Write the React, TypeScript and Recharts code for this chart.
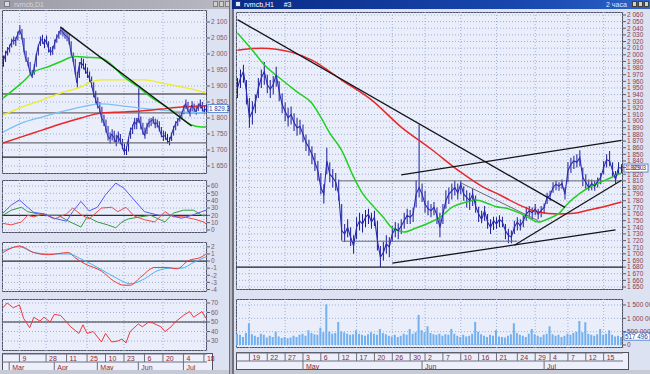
import {
  ComposedChart,
  Line,
  Bar,
  XAxis,
  YAxis,
  CartesianGrid,
  ReferenceLine,
} from 'recharts'

// ---------- left window: daily bars, Mar..Jul ----------
const LEFT_N = 100

const leftClose = [
  1975, 1995, 2010, 2020, 2035, 2045, 2040, 2060, 2075, 2060,
  2020, 1985, 1975, 1945, 1930, 1950, 1990, 2020, 2040, 2045,
  2030, 2045, 2020, 2005, 2010, 2030, 2050, 2060, 2075, 2070,
  2060, 2055, 2050, 2010, 1985, 1950, 1910, 1960, 1975, 1965,
  1950, 1940, 1925, 1910, 1880, 1860, 1840, 1830, 1800, 1790,
  1770, 1745, 1735, 1750, 1740, 1725, 1745, 1730, 1715, 1695,
  1700, 1730, 1760, 1770, 1790, 1780, 1800, 1780, 1760, 1745,
  1770, 1785, 1790, 1795, 1780, 1785, 1770, 1750, 1740, 1745,
  1730, 1725, 1745, 1765, 1780, 1790, 1800, 1810, 1830, 1845,
  1825, 1815, 1840, 1830, 1820, 1835, 1845, 1830, 1820, 1829,
]
const leftHigh = [
  1995, 2010, 2022, 2030, 2048, 2055, 2052, 2070, 2090, 2078,
  2050, 2010, 1990, 1975, 1950, 1968, 2000, 2030, 2055, 2060,
  2048, 2058, 2040, 2022, 2025, 2045, 2062, 2072, 2085, 2082,
  2075, 2068, 2062, 2040, 2005, 1985, 1945, 1975, 1988, 1985,
  1970, 1958, 1945, 1930, 1912, 1885, 1865, 1850, 1835, 1810,
  1795, 1775, 1755, 1765, 1760, 1748, 1758, 1750, 1735, 1720,
  1712, 1740, 1770, 1780, 1800, 1800, 1893, 1805, 1785, 1770,
  1785, 1798, 1800, 1805, 1798, 1795, 1790, 1772, 1760, 1758,
  1750, 1740, 1755, 1775, 1790, 1800, 1812, 1820, 1840, 1858,
  1850, 1830, 1852, 1845, 1835, 1845, 1858, 1850, 1838, 1840,
]
const leftLow = [
  1960, 1975, 1995, 2005, 2020, 2030, 2025, 2042, 2060, 2045,
  2005, 1975, 1962, 1935, 1925, 1935, 1960, 1995, 2025, 2032,
  2018, 2030, 2005, 1995, 1998, 2015, 2035, 2048, 2060, 2055,
  2048, 2040, 2030, 1995, 1975, 1935, 1895, 1925, 1955, 1952,
  1938, 1925, 1910, 1895, 1865, 1845, 1830, 1815, 1785, 1775,
  1755, 1730, 1720, 1730, 1725, 1712, 1725, 1718, 1702, 1685,
  1684, 1695, 1735, 1750, 1765, 1765, 1785, 1765, 1748, 1735,
  1750, 1770, 1775, 1782, 1768, 1770, 1758, 1740, 1728, 1732,
  1720, 1715, 1728, 1745, 1762, 1775, 1788, 1795, 1812, 1828,
  1815, 1805, 1820, 1818, 1810, 1822, 1830, 1820, 1812, 1818,
]

// moving averages, read as [bar index, value]
const leftGreenMA: [number, number][] = [
  [0, 1862], [9, 1909], [15, 1944], [22, 1960], [28, 1976], [35, 1992], [41, 1990],
  [48, 1987], [53, 1966], [59, 1928], [66, 1897], [72, 1866], [80, 1834], [87, 1800],
  [92, 1778], [97, 1772], [99, 1772],
]
const leftYellowMA: [number, number][] = [
  [0, 1809], [9, 1834], [19, 1856], [28, 1878], [38, 1897], [43, 1913], [48, 1919],
  [58, 1919], [69, 1919], [77, 1910], [87, 1897], [97, 1882], [99, 1878],
]
const leftBlueMA: [number, number][] = [
  [0, 1756], [9, 1784], [19, 1803], [28, 1819], [38, 1834], [48, 1844], [58, 1838],
  [67, 1831], [77, 1825], [87, 1819], [99, 1816],
]
const leftRedMA: [number, number][] = [
  [0, 1722], [9, 1741], [19, 1762], [28, 1781], [38, 1800], [48, 1816], [58, 1819],
  [67, 1822], [77, 1828], [87, 1834], [99, 1838],
]

// indicator panels
const dmiPlus: [number, number][] = [
  [0, 23], [4, 34], [8, 41], [12, 31], [15, 24], [20, 22], [25, 16], [31, 12], [34, 25],
  [38, 39], [42, 26], [46, 31], [50, 48], [55, 64], [59, 57], [63, 44], [69, 25], [76, 20],
  [82, 20], [87, 16], [92, 20], [97, 25], [99, 27],
]
const dmiRed: [number, number][] = [
  [0, 9], [4, 7], [9, 11], [12, 20], [15, 18], [20, 22], [25, 15], [31, 22], [34, 30],
  [38, 21], [42, 15], [48, 30], [53, 31], [56, 25], [60, 31], [64, 19], [69, 14], [74, 11],
  [79, 25], [83, 18], [88, 18], [93, 15], [98, 11], [99, 8],
]
const dmiGreen: [number, number][] = [
  [0, 20], [4, 27], [9, 31], [12, 25], [17, 22], [22, 20], [27, 20], [32, 12], [38, 4],
  [41, 18], [46, 11], [51, 7], [55, 3], [58, 11], [61, 15], [67, 18], [72, 20], [79, 11],
  [83, 23], [88, 27], [93, 27], [97, 20], [99, 20],
]
const macdLine: [number, number][] = [
  [0, 1.2], [8, 2.1], [15, 1.2], [22, 0.9], [32, 1.2], [35, 0.5], [40, -0.4], [48, -1.4],
  [54, -2.8], [59, -3.4], [62, -3.4], [67, -2.3], [74, -0.9], [80, -0.9], [85, -1.1],
  [90, 0], [97, 0.6], [99, 1.0],
]
const macdSignal: [number, number][] = [
  [0, 1.5], [8, 2.0], [15, 1.2], [22, 1.0], [32, 1.0], [38, 0.3], [48, -1.2], [56, -2.5],
  [62, -3.2], [69, -2.5], [75, -1.4], [82, -1.0], [87, -1.0], [93, -0.2], [99, 0.6],
]
const rsiLine: [number, number][] = [
  [0, 65], [2, 70], [5, 65], [7, 67], [8, 68], [10, 54], [13, 44], [15, 55], [18, 51],
  [20, 55], [23, 50], [25, 58], [28, 57], [31, 50], [33, 45], [37, 38], [39, 47], [41, 38],
  [44, 40], [48, 29], [50, 38], [53, 29], [56, 30], [58, 32], [60, 28], [62, 40], [66, 48],
  [68, 45], [71, 50], [73, 49], [77, 45], [79, 40], [82, 45], [84, 50], [88, 57], [91, 61],
  [93, 55], [97, 61], [99, 54],
]

const leftDayTicks = [8, 21, 31, 41, 50, 59, 69, 78, 88, 98]
const leftDayLabels = ['9', '28', '11', '25', '10', '23', '6', '20', '4', '18']
const leftMonthTicks = [3, 25, 46, 66, 88]
const leftMonthLabels = ['Mar', 'Apr', 'May', 'Jun', 'Jul']

// ---------- right window: intraday bars, Apr..Jul ----------
const RIGHT_N = 130

const rightClose = [
  1950, 1965, 1975, 1945, 1905, 1915, 1928, 1950, 1965, 1975,
  1955, 1948, 1955, 1970, 1945, 1925, 1915, 1905, 1910, 1898,
  1890, 1892, 1880, 1868, 1860, 1850, 1838, 1825, 1800, 1790,
  1840, 1820, 1815, 1808, 1790, 1735, 1730, 1740, 1725, 1712,
  1740, 1750, 1745, 1755, 1760, 1748, 1755, 1720, 1695, 1702,
  1715, 1710, 1730, 1738, 1735, 1742, 1750, 1758, 1755, 1760,
  1790, 1800, 1790, 1775, 1768, 1765, 1770, 1758, 1740, 1760,
  1780, 1790, 1795, 1800, 1792, 1805, 1790, 1785, 1780, 1790,
  1772, 1760, 1752, 1765, 1748, 1740, 1750, 1745, 1752, 1748,
  1735, 1728, 1725, 1740, 1748, 1742, 1750, 1760, 1765, 1762,
  1768, 1760, 1765, 1770, 1785, 1788, 1800, 1805, 1802, 1806,
  1790, 1825, 1835, 1840, 1838, 1845, 1815, 1808, 1800, 1806,
  1802, 1810, 1815, 1830, 1842, 1840, 1825, 1812, 1830, 1829,
]
const rightHigh = [
  1965, 1978, 1985, 1962, 1935, 1930, 1940, 1965, 1978, 1989,
  1970, 1962, 1968, 1982, 1960, 1942, 1928, 1920, 1922, 1912,
  1905, 1902, 1895, 1880, 1872, 1862, 1852, 1840, 1822, 1805,
  1860, 1838, 1828, 1822, 1812, 1775, 1745, 1752, 1740, 1728,
  1755, 1762, 1760, 1766, 1768, 1762, 1765, 1750, 1712, 1718,
  1728, 1725, 1742, 1748, 1746, 1752, 1762, 1768, 1766, 1770,
  1811, 1895, 1806, 1795, 1780, 1775, 1778, 1770, 1762, 1775,
  1796, 1800, 1806, 1810, 1806, 1810, 1802, 1796, 1792, 1798,
  1788, 1771, 1765, 1772, 1760, 1752, 1756, 1755, 1758, 1756,
  1745, 1738, 1735, 1750, 1755, 1752, 1758, 1771, 1772, 1770,
  1775, 1768, 1772, 1776, 1792, 1795, 1808, 1810, 1808, 1812,
  1800, 1838, 1845, 1848, 1850, 1856, 1830, 1820, 1812, 1812,
  1810, 1815, 1822, 1840, 1850, 1855, 1838, 1825, 1838, 1835,
]
const rightLow = [
  1935, 1950, 1958, 1925, 1890, 1895, 1912, 1935, 1950, 1955,
  1942, 1935, 1940, 1952, 1930, 1912, 1900, 1892, 1895, 1885,
  1878, 1880, 1868, 1855, 1848, 1835, 1825, 1810, 1790, 1776,
  1820, 1808, 1800, 1795, 1780, 1720, 1718, 1725, 1712, 1700,
  1722, 1735, 1732, 1740, 1745, 1738, 1742, 1705, 1680, 1690,
  1700, 1695, 1718, 1725, 1722, 1730, 1738, 1745, 1745, 1748,
  1770, 1785, 1778, 1762, 1758, 1755, 1758, 1745, 1725, 1745,
  1768, 1775, 1782, 1788, 1782, 1790, 1780, 1770, 1766, 1772,
  1762, 1748, 1746, 1750, 1738, 1730, 1736, 1738, 1740, 1740,
  1722, 1716, 1716, 1730, 1735, 1735, 1740, 1750, 1755, 1752,
  1758, 1752, 1755, 1760, 1775, 1780, 1792, 1796, 1795, 1798,
  1782, 1808, 1822, 1828, 1830, 1832, 1802, 1798, 1795, 1796,
  1795, 1800, 1805, 1820, 1830, 1832, 1815, 1806, 1820, 1822,
]
// volume in thousands
const rightVolume = [
  420, 380, 300, 450, 820, 400, 350, 300, 420, 380,
  280, 350, 300, 500, 320, 260, 300, 250, 280, 350,
  300, 380, 420, 350, 550, 450, 400, 380, 650, 480,
  1530, 500, 420, 450, 860, 520, 480, 420, 380, 400,
  550, 420, 380, 350, 400, 480, 420, 380, 600, 450,
  400, 350, 320, 380, 300, 350, 420, 380, 600, 420,
  480, 1120, 550, 480, 700, 450, 400, 380, 420, 350,
  400, 380, 600, 420, 350, 300, 380, 320, 350, 420,
  860, 500, 400, 350, 300, 380, 350, 550, 320, 300,
  280, 350, 400, 820, 450, 380, 350, 300, 420, 600,
  400, 350, 300, 380, 420, 700, 400, 350, 380, 300,
  350, 420, 380, 450, 500, 900, 480, 850, 420, 380,
  350, 400, 600, 380, 420, 550, 380, 320, 350, 300,
]

const rightGreenMA: [number, number][] = [
  [0, 2033], [5, 2007], [9, 1985], [15, 1962], [20, 1944], [25, 1927], [28, 1906],
  [31, 1882], [35, 1856], [39, 1816], [42, 1791], [46, 1770], [49, 1755], [52, 1739],
  [56, 1733], [60, 1739], [65, 1748], [68, 1755], [72, 1770], [77, 1778], [80, 1781],
  [84, 1776], [87, 1771], [90, 1769], [95, 1761], [98, 1754], [101, 1748], [105, 1754],
  [108, 1761], [111, 1776], [115, 1791], [118, 1800], [121, 1806], [125, 1814], [129, 1822],
]
const rightRedMA: [number, number][] = [
  [0, 2007], [8, 2010], [18, 2004], [25, 1992], [35, 1962], [45, 1932], [55, 1891],
  [65, 1858], [75, 1823], [82, 1802], [88, 1789], [95, 1773], [101, 1763], [108, 1760],
  [113, 1761], [118, 1766], [124, 1772], [129, 1778],
]

const rightDayTicks = [4, 10, 16, 22, 28, 34, 40, 46, 52, 58, 63, 69, 75, 81, 87, 94, 100, 105, 111, 117, 123]
const rightDayLabels = ['19', '22', '27', '3', '6', '12', '17', '20', '26', '30', '2', '7', '10', '16', '21', '24', '29', '4', '7', '12', '15']
const rightMonthTicks = [22, 62, 103]
const rightMonthLabels = ['May', 'Jun', 'Jul']

// drawn lines: [from index, from value, to index, to value]
const leftTrend: [number, number, number, number][] = [[28, 2084, 92, 1775]]
const leftLevels = [
  { v: 1875, c: '#202028' },
  { v: 1816, c: '#6c6c78' },
  { v: 1722, c: '#6c6c78' },
  { v: 1678, c: '#202028' },
]
const rightTrend: [number, number, number, number][] = [
  [0, 2053, 110, 1770],
  [55, 1819, 129, 1871],
  [52, 1686, 127, 1736],
  [93, 1713, 129, 1811],
]
const rightThin: [number, number, number, number][] = [
  [75, 1807, 101, 1750],
  [34, 1810, 129, 1810],
  [35, 1719, 94, 1719],
]
const rightFloor = 1680

const FONT = '"Liberation Sans", Arial, sans-serif'
const PAGE_BG = '#dce2f2'
const PLOT_BG = '#e9eefa'
const FRAME = '#50505e'
const GRID = '#9fb0d8'

function spaced(v: number): string {
  const neg = v < 0
  const s = Math.abs(Math.round(v)).toString().replace(/\B(?=(\d{3})+(?!\d))/g, ' ')
  return neg ? `-${s}` : s
}

function sparse(n: number, pts: [number, number][]): (number | null)[] {
  const out: (number | null)[] = new Array(n).fill(null)
  pts.forEach(([i, v]) => {
    out[i] = v
  })
  return out
}

function range(from: number, to: number, step: number): number[] {
  const out: number[] = []
  for (let v = from; v <= to + 1e-9; v += step) out.push(Math.round(v * 100) / 100)
  return out
}

const lg = sparse(LEFT_N, leftGreenMA)
const ly = sparse(LEFT_N, leftYellowMA)
const lb = sparse(LEFT_N, leftBlueMA)
const lr = sparse(LEFT_N, leftRedMA)
const d1 = sparse(LEFT_N, dmiPlus)
const d2 = sparse(LEFT_N, dmiRed)
const d3 = sparse(LEFT_N, dmiGreen)
const m1 = sparse(LEFT_N, macdLine)
const m2 = sparse(LEFT_N, macdSignal)
const rs = sparse(LEFT_N, rsiLine)

const leftRows = leftClose.map((c, i) => ({
  i,
  close: c,
  hl: [leftLow[i], leftHigh[i]],
  green: lg[i],
  yellow: ly[i],
  blue: lb[i],
  red: lr[i],
  dp: d1[i],
  dr: d2[i],
  dg: d3[i],
  macd: m1[i],
  sig: m2[i],
  rsi: rs[i],
}))

const rg = sparse(RIGHT_N, rightGreenMA)
const rr = sparse(RIGHT_N, rightRedMA)
const rightRows = rightClose.map((c, i) => ({
  i,
  close: c,
  hl: [rightLow[i], rightHigh[i]],
  green: rg[i],
  red: rr[i],
  vol: rightVolume[i],
}))

// plain svg text so the spaced numbers never wrap
function yTick(fill: string, fmt: (v: number) => string) {
  return (p: any) => (
    <text x={p.x} y={p.y + 2.3} fontSize={6.5} fill={fill} fontFamily={FONT} textAnchor="start">
      {fmt(p.payload.value)}
    </text>
  )
}

function tag(text: string, w: number) {
  return (props: any) => {
    const vb = props.viewBox || {}
    const x = (vb.x || 0) + (vb.width || 0) + 1
    const y = vb.y || 0
    return (
      <g>
        <rect x={x} y={y - 4} width={w} height={8} fill="#ffffff" stroke="#3f74d0" strokeWidth={0.8} />
        <text x={x + 1} y={y + 2.4} fontSize={6.3} fill="#1d3c9c" fontFamily={FONT}>
          {text}
        </text>
      </g>
    )
  }
}

function Box({ x, y, w, h, bg = PLOT_BG }: { x: number; y: number; w: number; h: number; bg?: string }) {
  return (
    <div
      style={{
        position: 'absolute',
        left: x,
        top: y,
        width: w,
        height: h,
        background: bg,
        border: `1px solid ${FRAME}`,
        boxSizing: 'border-box',
      }}
    />
  )
}

function DateStrip(props: {
  x: number
  y: number
  w: number
  n: number
  rows: any[]
  dayTicks: number[]
  dayLabels: string[]
  monthTicks: number[]
  monthLabels: string[]
}) {
  const { x, y, w, n, rows, dayTicks, dayLabels, monthTicks, monthLabels } = props
  const dayTick = (p: any) => {
    const k = dayTicks.indexOf(p.payload.value)
    return (
      <g>
        <line x1={p.x} y1={p.y} x2={p.x} y2={p.y + 8} stroke="#6e6e7e" />
        <text x={p.x + 3} y={p.y + 7} fontSize={7} fill="#8a2a3a" fontFamily={FONT}>
          {dayLabels[k]}
        </text>
      </g>
    )
  }
  const monthTick = (p: any) => {
    const k = monthTicks.indexOf(p.payload.value)
    return (
      <g>
        <line x1={p.x} y1={p.y} x2={p.x} y2={p.y + 9} stroke="#6e6e7e" />
        <text x={p.x + 3} y={p.y + 8} fontSize={7} fill="#8a2a3a" fontFamily={FONT}>
          {monthLabels[k]}
        </text>
      </g>
    )
  }
  return (
    <>
      <Box x={x} y={y} w={w + 6} h={18} bg="#edf0fa" />
      <div style={{ position: 'absolute', left: x, top: y }}>
        <ComposedChart width={w + 20} height={18} data={rows} margin={{ top: 0, right: 20, bottom: 0, left: 0 }}>
          <YAxis hide domain={[0, 1]} allowDataOverflow />
          <XAxis
            xAxisId="d"
            dataKey="i"
            type="number"
            domain={[-0.5, n - 0.5]}
            ticks={dayTicks}
            interval={0}
            height={8}
            tickSize={0}
            tickMargin={0}
            tickLine={false}
            axisLine={{ stroke: '#6e6e7e' }}
            tick={dayTick}
          />
          <XAxis
            xAxisId="m"
            dataKey="i"
            type="number"
            domain={[-0.5, n - 0.5]}
            ticks={monthTicks}
            interval={0}
            height={9}
            tickSize={0}
            tickMargin={0}
            tickLine={false}
            axisLine={{ stroke: '#6e6e7e' }}
            tick={monthTick}
          />
          <Line xAxisId="d" dataKey="close" stroke="none" dot={false} isAnimationActive={false} />
          <Line xAxisId="m" dataKey="close" stroke="none" dot={false} isAnimationActive={false} />
        </ComposedChart>
      </div>
    </>
  )
}

// geometry of the two windows
const L = { x: 2, w: 205, axis: 23 }
const R = { x: 236, w: 387, axis: 27 }

export default function App() {
  const leftX = (
    <XAxis dataKey="i" type="number" domain={[-0.5, LEFT_N - 0.5]} ticks={leftDayTicks} hide />
  )
  const rightX = (
    <XAxis dataKey="i" type="number" domain={[-0.5, RIGHT_N - 0.5]} ticks={rightDayTicks} hide />
  )
  const leftYProps = {
    orientation: 'right' as const,
    width: L.axis,
    interval: 0,
    tickSize: 3,
    tickMargin: 1,
    axisLine: false,
    tickLine: { stroke: '#5a5a6a' },
    allowDataOverflow: true,
  }
  const rightYProps = {
    orientation: 'right' as const,
    width: R.axis,
    interval: 0,
    tickSize: 3,
    tickMargin: 1,
    axisLine: false,
    tickLine: { stroke: '#5a5a6a' },
    allowDataOverflow: true,
  }
  const leftLabel = '#7a5a6c'
  const rightLabel = '#8a3a4c'
  const plain = (v: number) => String(v)
  const grid = <CartesianGrid stroke={GRID} strokeDasharray="1 2" />

  return (
    <div
      style={{
        position: 'relative',
        width: 650,
        height: 374,
        background: PAGE_BG,
        overflow: 'hidden',
        fontFamily: FONT,
      }}
    >
      <style>{'body{margin:0}'}</style>

      {/* left window chrome */}
      <div style={{ position: 'absolute', left: 0, top: 0, width: 229, height: 9, background: 'linear-gradient(90deg,#9c9ca6,#b8b8c2)' }} />
      <div style={{ position: 'absolute', left: 4, top: 1, width: 6, height: 6, background: '#d8d8e0', border: '1px solid #7a7a86', boxSizing: 'border-box' }} />
      <div style={{ position: 'absolute', left: 14, top: 0, fontSize: 7, color: '#d4d4dc', lineHeight: '9px' }}>rvmcb,D1</div>
      {[213, 219, 225].map((bx) => (
        <div key={bx} style={{ position: 'absolute', left: bx, top: 1, width: 5, height: 6, background: '#d4d0c8', border: '1px solid #808080', boxSizing: 'border-box' }} />
      ))}
      <div style={{ position: 'absolute', left: 229, top: 0, width: 3, height: 374, background: '#b6b6c0', borderLeft: '1px solid #70707c', boxSizing: 'border-box' }} />

      {/* right window chrome */}
      <div style={{ position: 'absolute', left: 232, top: 0, width: 418, height: 9, background: 'linear-gradient(90deg,#0a2a86,#1848b0 70%,#2c62c8)' }} />
      <div style={{ position: 'absolute', left: 235, top: 1, width: 6, height: 6, background: '#dfe6ff', border: '1px solid #2a3a80', boxSizing: 'border-box' }} />
      <div style={{ position: 'absolute', left: 244, top: 0, fontSize: 7, color: '#ffffff', lineHeight: '9px', whiteSpace: 'pre' }}>{'rvmcb,H1     #3'}</div>
      <div style={{ position: 'absolute', left: 606, top: 0, fontSize: 7, color: '#dfe8ff', lineHeight: '9px', whiteSpace: 'nowrap' }}>2 часа</div>
      {[632, 638, 644].map((bx) => (
        <div key={bx} style={{ position: 'absolute', left: bx, top: 1, width: 5, height: 6, background: '#d4d0c8', border: '1px solid #404040', boxSizing: 'border-box' }} />
      ))}
      <div style={{ position: 'absolute', left: 232, top: 9, width: 2, height: 365, background: '#70707c' }} />

      {/* left: price */}
      <Box x={L.x} y={10} w={L.w} h={164} />
      <div style={{ position: 'absolute', left: L.x, top: 10 }}>
        <ComposedChart width={L.w + L.axis} height={164} data={leftRows} margin={{ top: 0, right: 0, bottom: 0, left: 0 }}>
          {grid}
          {leftX}
          <YAxis {...leftYProps} domain={[1625, 2137.5]} ticks={range(1650, 2100, 50)} tick={yTick(leftLabel, spaced)} />
          {leftLevels.map((l) => (
            <ReferenceLine key={l.v} y={l.v} stroke={l.c} strokeWidth={1.2} />
          ))}
          <Line dataKey="yellow" type="monotone" stroke="#ecec28" strokeWidth={1.3} dot={false} connectNulls isAnimationActive={false} />
          <Line dataKey="blue" type="monotone" stroke="#7cc0f4" strokeWidth={1.3} dot={false} connectNulls isAnimationActive={false} />
          <Line dataKey="red" type="monotone" stroke="#e82828" strokeWidth={1.5} dot={false} connectNulls isAnimationActive={false} />
          <Line dataKey="green" type="monotone" stroke="#22d022" strokeWidth={1.5} dot={false} connectNulls isAnimationActive={false} />
          <Bar dataKey="hl" barSize={1} fill="#1c1c9a" isAnimationActive={false} />
          <Line dataKey="close" type="linear" stroke="#2a2ab4" strokeWidth={1} dot={false} isAnimationActive={false} />
          {leftTrend.map(([a, av, b, bv]) => (
            <ReferenceLine key={a} segment={[{ x: a, y: av }, { x: b, y: bv }]} stroke="#141418" strokeWidth={1.3} />
          ))}
          <ReferenceLine y={1829.3} stroke="none" label={tag('1 829.3', 20)} />
        </ComposedChart>
      </div>

      {/* left: DMI */}
      <Box x={L.x} y={180} w={L.w} h={53} />
      <div style={{ position: 'absolute', left: L.x, top: 180 }}>
        <ComposedChart width={L.w + L.axis} height={53} data={leftRows} margin={{ top: 0, right: 0, bottom: 0, left: 0 }}>
          {grid}
          {leftX}
          <YAxis {...leftYProps} domain={[-4.1, 68.2]} ticks={range(0, 60, 10)} tick={yTick(leftLabel, plain)} />
          <ReferenceLine y={20} stroke="#303038" strokeWidth={1.2} />
          <Line dataKey="dg" type="linear" stroke="#3a9a3a" strokeWidth={1} dot={false} connectNulls isAnimationActive={false} />
          <Line dataKey="dr" type="linear" stroke="#f04848" strokeWidth={1} dot={false} connectNulls isAnimationActive={false} />
          <Line dataKey="dp" type="linear" stroke="#5858f4" strokeWidth={1} dot={false} connectNulls isAnimationActive={false} />
        </ComposedChart>
      </div>

      {/* left: MACD */}
      <Box x={L.x} y={242} w={L.w} h={50} />
      <div style={{ position: 'absolute', left: L.x, top: 242 }}>
        <ComposedChart width={L.w + L.axis} height={50} data={leftRows} margin={{ top: 0, right: 0, bottom: 0, left: 0 }}>
          {grid}
          {leftX}
          <YAxis {...leftYProps} domain={[-4.35, 2.68]} ticks={range(-4, 2, 1)} tick={yTick(leftLabel, plain)} />
          <ReferenceLine y={0} stroke="#303038" strokeWidth={1.2} />
          <Line dataKey="sig" type="monotone" stroke="#48b4f4" strokeWidth={1} dot={false} connectNulls isAnimationActive={false} />
          <Line dataKey="macd" type="monotone" stroke="#f03838" strokeWidth={1} dot={false} connectNulls isAnimationActive={false} />
        </ComposedChart>
      </div>

      {/* left: RSI */}
      <Box x={L.x} y={299} w={L.w} h={52} />
      <div style={{ position: 'absolute', left: L.x, top: 299 }}>
        <ComposedChart width={L.w + L.axis} height={52} data={leftRows} margin={{ top: 0, right: 0, bottom: 0, left: 0 }}>
          {grid}
          {leftX}
          <YAxis {...leftYProps} domain={[19.5, 74.2]} ticks={range(30, 70, 10)} tick={yTick(leftLabel, plain)} />
          <ReferenceLine y={50} stroke="#303038" strokeWidth={1.2} />
          <Line dataKey="rsi" type="linear" stroke="#f03838" strokeWidth={1} dot={false} connectNulls isAnimationActive={false} />
        </ComposedChart>
      </div>

      <DateStrip
        x={L.x}
        y={353}
        w={L.w}
        n={LEFT_N}
        rows={leftRows}
        dayTicks={leftDayTicks}
        dayLabels={leftDayLabels}
        monthTicks={leftMonthTicks}
        monthLabels={leftMonthLabels}
      />

      {/* right: price */}
      <Box x={R.x} y={12} w={R.w} h={278} />
      <div style={{ position: 'absolute', left: R.x, top: 12 }}>
        <ComposedChart width={R.w + R.axis} height={278} data={rightRows} margin={{ top: 0, right: 0, bottom: 0, left: 0 }}>
          {grid}
          {rightX}
          <YAxis {...rightYProps} domain={[1645.5, 2064.5]} ticks={range(1650, 2060, 10)} tick={yTick(rightLabel, spaced)} />
          <ReferenceLine y={rightFloor} stroke="#202028" strokeWidth={1.2} />
          {rightThin.map(([a, av, b, bv]) => (
            <ReferenceLine key={`t${a}`} segment={[{ x: a, y: av }, { x: b, y: bv }]} stroke="#6c6c78" strokeWidth={1} />
          ))}
          <Line dataKey="red" type="monotone" stroke="#e82828" strokeWidth={1.5} dot={false} connectNulls isAnimationActive={false} />
          <Line dataKey="green" type="monotone" stroke="#22d022" strokeWidth={1.5} dot={false} connectNulls isAnimationActive={false} />
          <Bar dataKey="hl" barSize={1} fill="#1c1c9a" isAnimationActive={false} />
          <Line dataKey="close" type="linear" stroke="#2a2ab4" strokeWidth={1.1} dot={false} isAnimationActive={false} />
          {rightTrend.map(([a, av, b, bv]) => (
            <ReferenceLine key={`r${a}`} segment={[{ x: a, y: av }, { x: b, y: bv }]} stroke="#141418" strokeWidth={1.3} />
          ))}
          <ReferenceLine y={1829.3} stroke="none" label={tag('1 829.3', 24)} />
        </ComposedChart>
      </div>

      {/* right: volume */}
      <Box x={R.x} y={299} w={R.w} h={49} />
      <div style={{ position: 'absolute', left: R.x, top: 299 }}>
        <ComposedChart width={R.w + R.axis} height={49} data={rightRows} margin={{ top: 0, right: 0, bottom: 0, left: 0 }}>
          {grid}
          {rightX}
          <YAxis {...rightYProps} domain={[-112, 1724]} ticks={[0, 500, 1000, 1500]} tick={yTick(rightLabel, (v: number) => spaced(v * 1000))} />
          <Bar dataKey="vol" barSize={2} fill="#72b0f0" isAnimationActive={false} />
          <ReferenceLine y={330} stroke="none" label={tag('517 496', 26)} />
        </ComposedChart>
      </div>

      <DateStrip
        x={R.x}
        y={352}
        w={R.w}
        n={RIGHT_N}
        rows={rightRows}
        dayTicks={rightDayTicks}
        dayLabels={rightDayLabels}
        monthTicks={rightMonthTicks}
        monthLabels={rightMonthLabels}
      />

      {/* scroll bars */}
      <div style={{ position: 'absolute', left: 0, top: 370, width: 229, height: 4, background: '#c6cad6' }} />
      <div style={{ position: 'absolute', left: 234, top: 370, width: 416, height: 4, background: '#c6cad6' }} />
    </div>
  )
}
